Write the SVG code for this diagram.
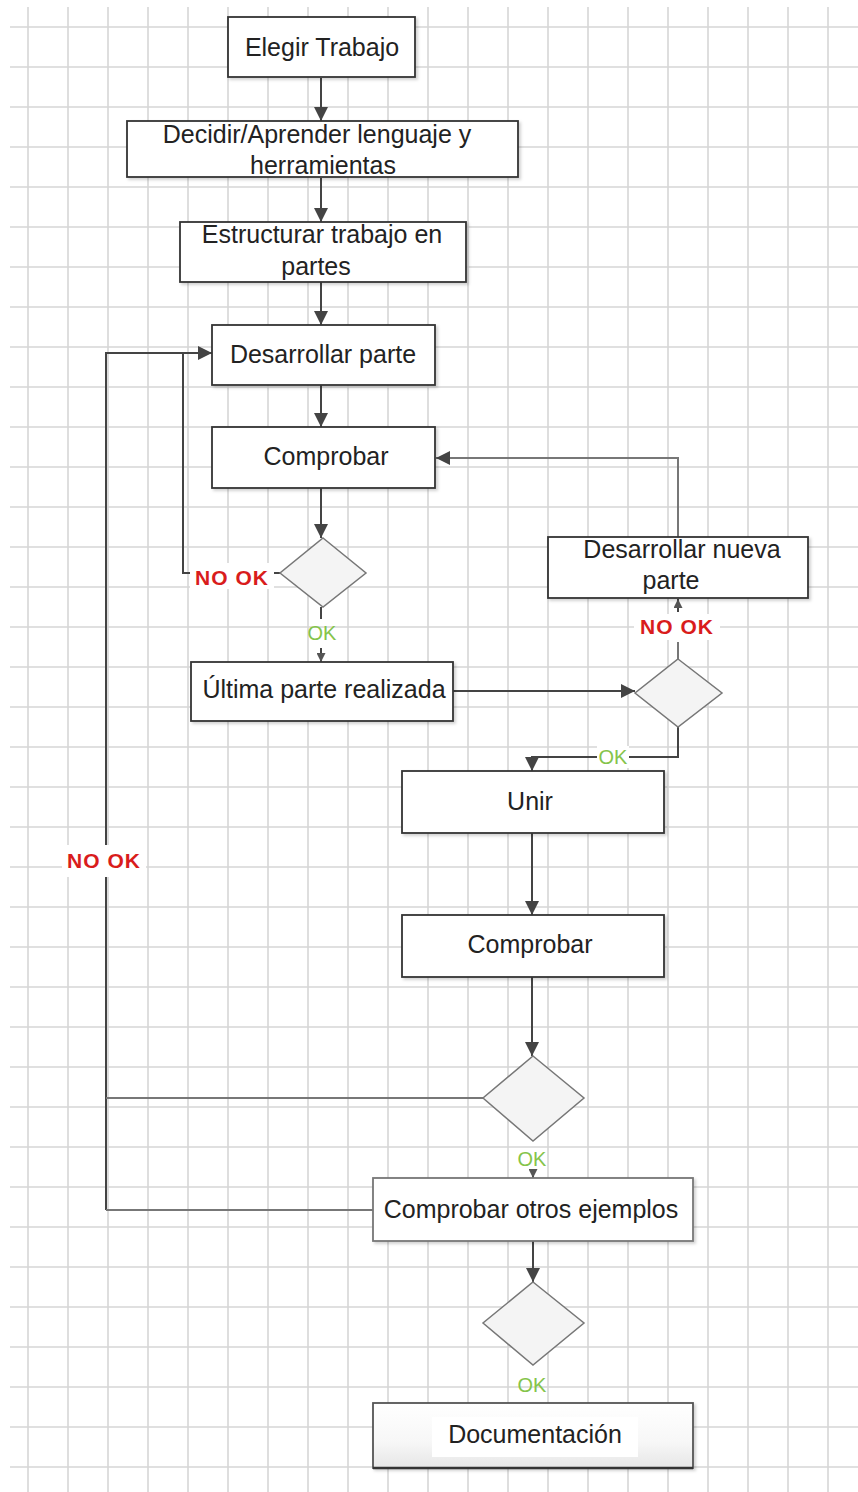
<svg xmlns="http://www.w3.org/2000/svg" width="858" height="1492" viewBox="0 0 858 1492">
<defs>
<pattern id="grid" x="8" y="7" width="40" height="40" patternUnits="userSpaceOnUse">
<path d="M20,0 V40 M0,20 H40" fill="none" stroke="#d6d6d6" stroke-width="1.6"/>
</pattern>
<marker id="arr" viewBox="0 0 10 10" refX="10" refY="5" markerWidth="14" markerHeight="14" markerUnits="userSpaceOnUse" orient="auto">
<path d="M0,0 L10,5 L0,10 Z" fill="#444"/>
</marker>
<marker id="arrs" viewBox="0 0 10 10" refX="10" refY="5" markerWidth="9" markerHeight="9" markerUnits="userSpaceOnUse" orient="auto">
<path d="M0,0 L10,5 L0,10 Z" fill="#555"/>
</marker>
<linearGradient id="docg" x1="0" y1="0" x2="0" y2="1">
<stop offset="0" stop-color="#ffffff"/>
<stop offset="0.6" stop-color="#f7f7f7"/>
<stop offset="1" stop-color="#e6e6e6"/>
</linearGradient>
<filter id="sh" x="-5%" y="-10%" width="115%" height="130%">
<feDropShadow dx="2" dy="2" stdDeviation="1.5" flood-color="#000" flood-opacity="0.18"/>
</filter>
</defs>
<style>
.box{fill:#fff;stroke:#333;stroke-width:1.8;filter:url(#sh)}
.dia{fill:#f4f4f4;stroke:#777;stroke-width:1.5}
.t{font-family:"Liberation Sans",Arial,sans-serif;font-size:25px;fill:#222;text-anchor:middle}
.c{fill:none;stroke:#444;stroke-width:2}
.cl{fill:none;stroke:#777;stroke-width:2}
.nok{font-family:"Liberation Sans",Arial,sans-serif;font-size:21px;font-weight:bold;fill:#d91c1c;text-anchor:middle;letter-spacing:1px}
.ok{font-family:"Liberation Sans",Arial,sans-serif;font-size:20px;fill:#85c44a;text-anchor:middle}
.lbg{fill:#fff}
</style>
<rect width="858" height="1492" fill="#fff"/>
<rect x="10" y="7" width="848" height="1485" fill="url(#grid)"/>

<g id="connectors">
<line class="c" x1="321" y1="78" x2="321" y2="121" marker-end="url(#arr)"/>
<line class="c" x1="321" y1="178" x2="321" y2="222" marker-end="url(#arr)"/>
<line class="c" x1="321" y1="282" x2="321" y2="325" marker-end="url(#arr)"/>
<line class="c" x1="321" y1="385" x2="321" y2="427" marker-end="url(#arr)"/>
<line class="c" x1="321" y1="488" x2="321" y2="538" marker-end="url(#arr)"/>
<line class="c" x1="321" y1="607" x2="321" y2="619"/>
<line class="c" x1="321" y1="648" x2="321" y2="662" marker-end="url(#arrs)"/>
<path class="c" d="M280,573 H183 V353"/>
<path class="c" d="M106,1210 V353 H212" marker-end="url(#arr)"/>
<path class="cl" d="M483,1098 H106"/>
<path class="cl" d="M373,1210 H106"/>
<path class="cl" d="M678,537 V458 H436" marker-end="url(#arr)"/>
<line class="cl" x1="678" y1="659" x2="678" y2="642"/>
<line class="c" x1="678" y1="612" x2="678" y2="599" marker-end="url(#arrs)"/>
<line class="c" x1="453" y1="691" x2="635" y2="691" marker-end="url(#arr)"/>
<path class="c" d="M678,727 V757 H532 V771" marker-end="url(#arr)"/>
<line class="c" x1="532" y1="833" x2="532" y2="915" marker-end="url(#arr)"/>
<line class="c" x1="532" y1="977" x2="532" y2="1056" marker-end="url(#arr)"/>
<line class="c" x1="533" y1="1170" x2="533" y2="1178" marker-end="url(#arrs)"/>
<line class="c" x1="533" y1="1241" x2="533" y2="1282" marker-end="url(#arr)"/>
<rect class="lbg" x="190" y="563" width="84" height="26"/>
<text class="nok" x="232" y="585">NO OK</text>
<rect class="lbg" x="62" y="845" width="84" height="32"/>
<text class="nok" x="104" y="868">NO OK</text>
<rect class="lbg" x="634" y="614" width="86" height="26"/>
<text class="nok" x="677" y="634">NO OK</text>
<rect class="lbg" x="597" y="746" width="32" height="22"/>
<text class="ok" x="613" y="764">OK</text>
<text class="ok" x="322" y="640">OK</text>
<text class="ok" x="532" y="1166">OK</text>
<text class="ok" x="532" y="1392">OK</text>
</g>

<g id="n1"><rect class="box" x="228" y="17" width="187" height="60"/><text class="t" x="322" y="56">Elegir Trabajo</text></g>
<g id="n2"><rect class="box" x="127" y="121" width="391" height="56"/><text class="t" x="317" y="143">Decidir/Aprender lenguaje y</text><text class="t" x="323" y="174">herramientas</text></g>
<g id="n3"><rect class="box" x="180" y="222" width="286" height="60"/><text class="t" x="322" y="243">Estructurar trabajo en</text><text class="t" x="316" y="275">partes</text></g>
<g id="n4"><rect class="box" x="212" y="325" width="223" height="60"/><text class="t" x="323" y="363">Desarrollar parte</text></g>
<g id="n5"><rect class="box" x="212" y="427" width="223" height="61"/><text class="t" x="326" y="465">Comprobar</text></g>
<g id="d1"><polygon class="dia" points="323,538 366,573 323,607 280,573"/></g>
<g id="n6"><rect class="box" x="191" y="662" width="262" height="59"/><text class="t" x="324" y="698">Última parte realizada</text></g>
<g id="n7"><rect class="box" x="548" y="537" width="260" height="61"/><text class="t" x="682" y="558">Desarrollar nueva</text><text class="t" x="671" y="589">parte</text></g>
<g id="d2"><polygon class="dia" points="678,659 722,693 678,727 635,693"/></g>
<g id="n8"><rect class="box" x="402" y="771" width="262" height="62"/><text class="t" x="530" y="810">Unir</text></g>
<g id="n9"><rect class="box" x="402" y="915" width="262" height="62"/><text class="t" x="530" y="953">Comprobar</text></g>
<g id="d3"><polygon class="dia" points="533,1056 584,1098 533,1141 483,1098"/></g>
<g id="n10"><rect class="box" x="373" y="1178" width="320" height="63" style="stroke:#777"/><text class="t" x="531" y="1218">Comprobar otros ejemplos</text></g>
<g id="d4"><polygon class="dia" points="533,1282 584,1323 533,1365 483,1323"/></g>
<g id="n11"><rect class="box" x="373" y="1403" width="320" height="65" style="fill:url(#docg);stroke:#555"/><line x1="373" y1="1468" x2="693" y2="1468" stroke="#333" stroke-width="2.5"/><rect x="432" y="1417" width="206" height="40" fill="#fff"/><text class="t" x="535" y="1443">Documentación</text></g>
</svg>
